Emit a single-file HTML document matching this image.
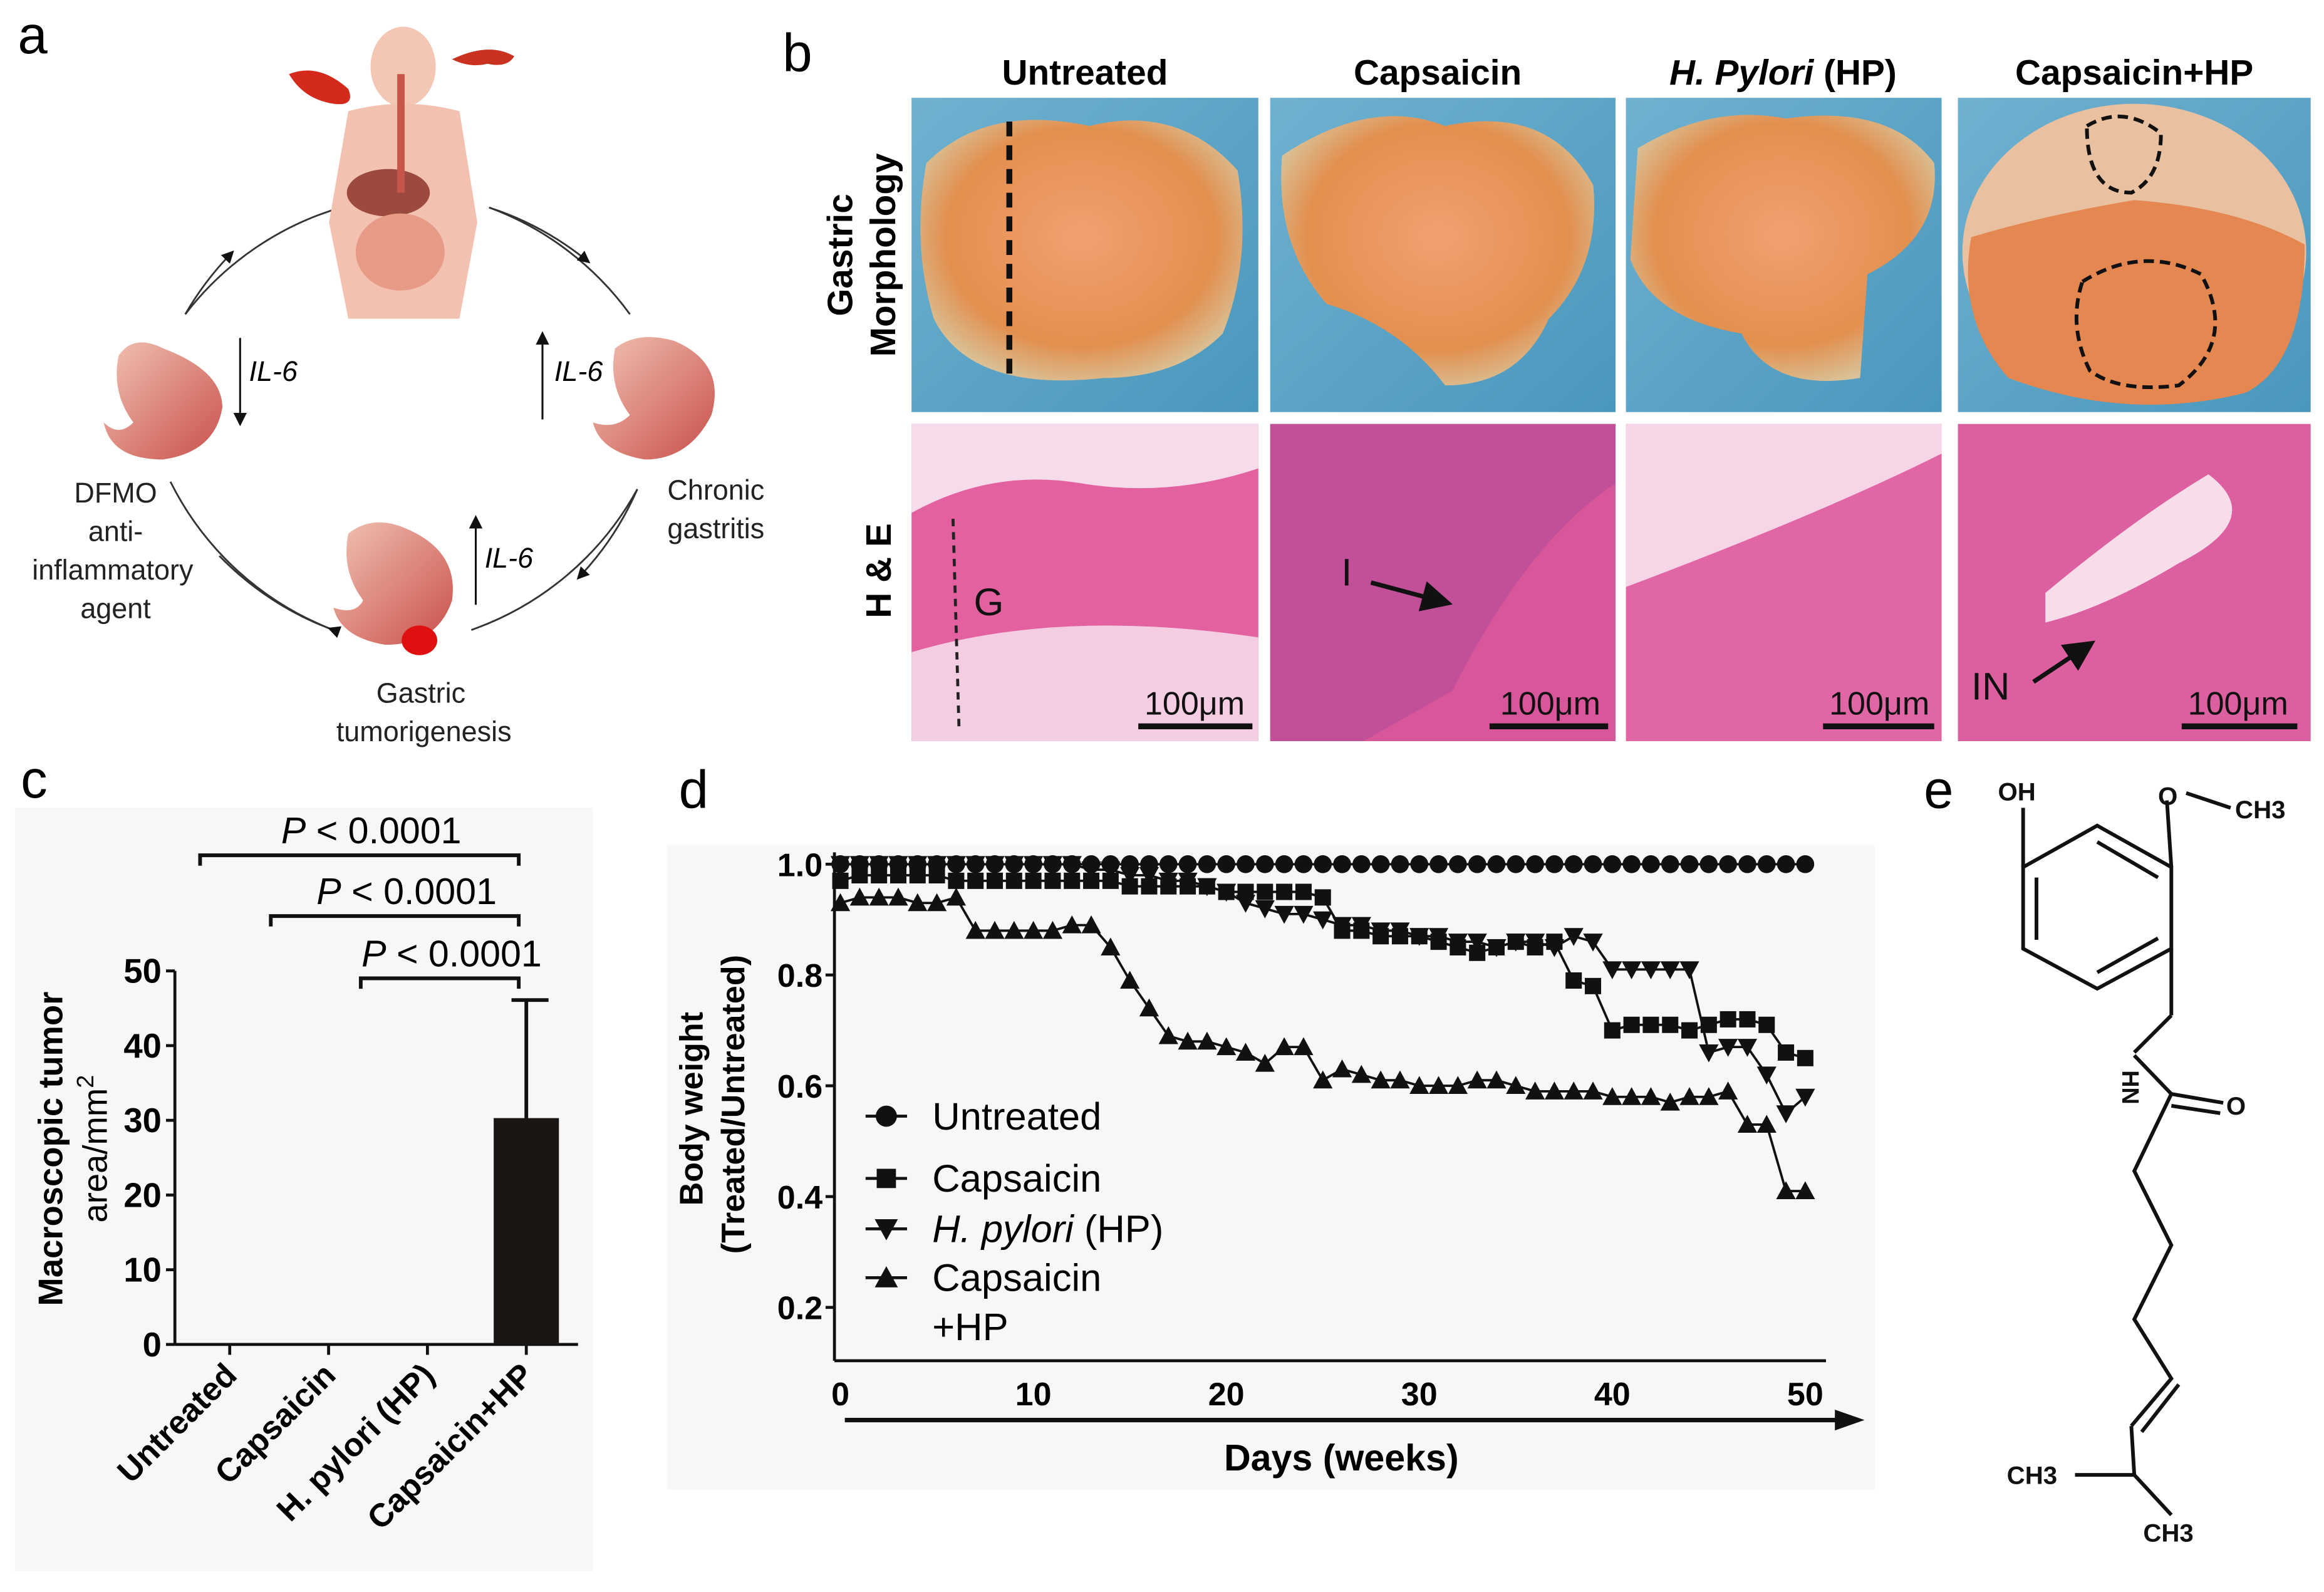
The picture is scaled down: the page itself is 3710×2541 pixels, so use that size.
<!DOCTYPE html>
<html><head><meta charset="utf-8"><style>
html,body{margin:0;padding:0;background:#fff;}
svg{display:block;font-family:"Liberation Sans",Arial,sans-serif;}
</style></head><body>
<svg id="fig" width="3710" height="2541" viewBox="0 0 1568 1074" preserveAspectRatio="none" xmlns="http://www.w3.org/2000/svg">
<defs>
<marker id="ah" viewBox="0 0 10 10" refX="5" refY="5" markerWidth="7" markerHeight="7" orient="auto"><path d="M0,0L10,5L0,10z" fill="#111"/></marker>
<radialGradient id="stom" cx="50%" cy="45%" r="60%"><stop offset="0" stop-color="#f2a070"/><stop offset="0.7" stop-color="#e2904f"/><stop offset="1" stop-color="#d8c7a0"/></radialGradient>
<linearGradient id="blue" x1="0" y1="0" x2="1" y2="1"><stop offset="0" stop-color="#6fb1cf"/><stop offset="1" stop-color="#4a97bd"/></linearGradient>
<linearGradient id="stomA" x1="0" y1="0" x2="1" y2="1"><stop offset="0" stop-color="#f1c3b4"/><stop offset="1" stop-color="#c9504a"/></linearGradient>
<clipPath id="clip4"><rect x="1321" y="66" width="238" height="212"/></clipPath>
</defs>

<!-- ===== Panel a ===== -->
<g>
<text x="12" y="36" font-size="36">a</text>
<path d="M125,212 A205,205 0 0 1 155,172" fill="none" stroke="#333" stroke-width="1.2" marker-end="url(#ah)"/>
<path d="M125,212 A205,205 0 0 1 230,140" fill="none" stroke="#333" stroke-width="1.2"/>
<path d="M330,140 A205,205 0 0 1 425,212" fill="none" stroke="#333" stroke-width="1.2"/>
<path d="M330,140 A205,205 0 0 1 395,175" fill="none" stroke="#333" stroke-width="1.2" marker-end="url(#ah)"/>
<path d="M430,330 A205,205 0 0 1 318,425" fill="none" stroke="#333" stroke-width="1.2"/>
<path d="M430,330 A205,205 0 0 1 392,388" fill="none" stroke="#333" stroke-width="1.2" marker-end="url(#ah)"/>
<path d="M225,425 A205,205 0 0 1 115,325" fill="none" stroke="#333" stroke-width="1.2"/>
<path d="M225,425 A205,205 0 0 1 148,375" fill="none" stroke="#333" stroke-width="1.2" marker-start="url(#ah)"/>
<g>
<ellipse cx="272" cy="45" rx="22" ry="27" fill="#f4c6b4"/>
<path d="M235,75 Q272,65 310,75 L322,150 L310,215 L235,215 L222,150 Z" fill="#f3c1b0"/>
<ellipse cx="262" cy="130" rx="28" ry="16" fill="#9b4a3d"/>
<ellipse cx="270" cy="170" rx="30" ry="26" fill="#e79a86"/>
<rect x="268" y="50" width="5" height="80" fill="#c8554a"/>
</g>
<path d="M195,50 q20,-8 40,10 q5,12 -10,10 q-20,-3 -30,-20z" fill="#d42a1c"/>
<path d="M305,40 q25,-12 42,-2 q-5,8 -18,5 q-12,3 -24,-3z" fill="#c9321f"/>
<path d="M80,240 q10,-15 30,-5 q40,15 40,40 q-5,30 -40,35 q-35,0 -40,-25 q10,10 20,0 q-15,-20 -10,-45z" fill="url(#stomA)"/>
<path d="M415,235 q15,-12 40,-5 q35,15 25,50 q-15,30 -45,30 q-30,-5 -35,-25 q15,5 25,-5 q-15,-20 -10,-45z" fill="url(#stomA)"/>
<path d="M235,360 q15,-12 35,-5 q40,15 35,50 q-10,30 -45,30 q-30,-5 -35,-25 q15,5 20,-5 q-15,-20 -10,-45z" fill="url(#stomA)"/>
<ellipse cx="283" cy="432" rx="12" ry="10" fill="#e01010"/>
<line x1="162" y1="228" x2="162" y2="283" stroke="#111" stroke-width="1.3" marker-end="url(#ah)"/>
<text x="168" y="257" font-size="19" font-style="italic">IL-6</text>
<line x1="366" y1="283" x2="366" y2="228" stroke="#111" stroke-width="1.3" marker-end="url(#ah)"/>
<text x="374" y="257" font-size="19" font-style="italic">IL-6</text>
<line x1="321" y1="408" x2="321" y2="352" stroke="#111" stroke-width="1.3" marker-end="url(#ah)"/>
<text x="327" y="383" font-size="19" font-style="italic">IL-6</text>
<g font-size="19" text-anchor="middle" fill="#222">
<text x="78" y="339">DFMO</text><text x="78" y="365">anti-</text><text x="76" y="391">inflammatory</text><text x="78" y="417">agent</text>
<text x="483" y="337">Chronic</text><text x="483" y="363">gastritis</text>
<text x="284" y="474">Gastric</text><text x="286" y="500">tumorigenesis</text>
</g>
</g>

<!-- ===== Panel b ===== -->
<g>
<text x="528" y="48" font-size="36">b</text>
<g font-size="24" font-weight="bold" text-anchor="middle">
<text x="732" y="57">Untreated</text>
<text x="970" y="57">Capsaicin</text>
<text x="1203" y="57"><tspan font-style="italic">H. Pylori</tspan> (HP)</text>
<text x="1440" y="57">Capsaicin+HP</text>
<text transform="translate(604,172) rotate(-90)">Morphology</text>
<text transform="translate(575,172) rotate(-90)">Gastric</text>
<text transform="translate(601,385) rotate(-90)">H &amp; E</text>
</g>
<g>
<rect x="615" y="66" width="234" height="212" fill="url(#blue)"/>
<path d="M625,110 q40,-40 110,-25 q60,-15 100,30 q10,60 -10,110 q-30,30 -80,30 q-90,10 -115,-40 q-15,-50 -5,-105z" fill="url(#stom)"/>
<line x1="681" y1="82" x2="681" y2="252" stroke="#111" stroke-width="4" stroke-dasharray="10,6"/>
<rect x="857" y="66" width="233" height="212" fill="url(#blue)"/>
<path d="M865,105 q60,-40 110,-20 q70,-15 100,40 q5,55 -30,90 q-20,45 -70,45 q-30,-40 -80,-55 q-35,-40 -30,-100z" fill="url(#stom)"/>
<rect x="1097" y="66" width="213" height="212" fill="url(#blue)"/>
<path d="M1105,100 q50,-30 100,-20 q70,-10 100,30 q5,50 -45,75 l-5,70 q-60,10 -80,-30 q-60,-10 -75,-50z" fill="url(#stom)"/>
<rect x="1321" y="66" width="238" height="212" fill="url(#blue)"/>
<g clip-path="url(#clip4)">
<ellipse cx="1440" cy="170" rx="116" ry="100" fill="#e9c0a0"/>
<path d="M1330,160 q50,-15 110,-25 q70,5 115,30 q0,80 -40,100 q-80,20 -160,-10 q-35,-40 -25,-95z" fill="#e58750"/>
</g>
<path d="M1408,85 q25,-15 50,5 q0,30 -20,40 q-30,0 -30,-45z" fill="none" stroke="#111" stroke-width="2.5" stroke-dasharray="7,4"/>
<path d="M1405,190 q40,-25 80,-5 q25,45 -15,75 q-40,5 -60,-10 q-15,-30 -5,-60z" fill="none" stroke="#111" stroke-width="2.5" stroke-dasharray="7,4"/>
</g>
<g>
<rect x="615" y="286" width="234" height="214" fill="#e2619e"/>
<path d="M615,286 h234 v30 q-60,20 -120,10 q-60,-10 -114,20z" fill="#f6dceb"/>
<path d="M615,440 q100,-30 234,-10 v70 h-234z" fill="#f4cde2"/>
<line x1="643" y1="350" x2="647" y2="490" stroke="#222" stroke-width="2" stroke-dasharray="5,4"/>
<text x="657" y="415" font-size="26" fill="#111">G</text>
<rect x="857" y="286" width="233" height="214" fill="#d8579a"/>
<path d="M857,286 h233 v40 q-60,40 -110,140 l-60,34 h-63z" fill="#b04a98" opacity="0.55"/>
<text x="905" y="395" font-size="26" fill="#111">I</text>
<line x1="925" y1="393" x2="970" y2="405" stroke="#111" stroke-width="3" marker-end="url(#ah)"/>
<rect x="1097" y="286" width="213" height="214" fill="#e066a5"/>
<path d="M1097,286 h213 v20 q-80,40 -213,90z" fill="#f5d5e6"/>
<rect x="1321" y="286" width="238" height="214" fill="#dc5f9f"/>
<path d="M1380,400 q60,-50 110,-80 q40,30 -20,60 q-50,30 -90,40z" fill="#f7dcea"/>
<text x="1330" y="472" font-size="26" fill="#111">IN</text>
<line x1="1372" y1="460" x2="1405" y2="438" stroke="#111" stroke-width="3" marker-end="url(#ah)"/>
<g font-size="22" fill="#111" text-anchor="middle">
<text x="806" y="482">100μm</text><text x="1046" y="482">100μm</text><text x="1268" y="482">100μm</text><text x="1510" y="482">100μm</text>
</g>
<g stroke="#111" stroke-width="4">
<line x1="768" y1="490" x2="845" y2="490"/><line x1="1005" y1="490" x2="1085" y2="490"/><line x1="1230" y1="490" x2="1305" y2="490"/><line x1="1472" y1="490" x2="1550" y2="490"/>
</g>
</g>
</g>

<!-- ===== Panel c ===== -->
<g>
<rect x="10" y="545" width="390" height="515" fill="#f7f7f7"/>
<text x="14" y="538" font-size="36">c</text>
<g id="chartC"></g>
</g>

<!-- ===== Panel d ===== -->
<g>
<rect x="450" y="570" width="815" height="435" fill="#f7f7f7"/>
<text x="458" y="545" font-size="36">d</text>
<g id="chartD"></g>
</g>

<!-- ===== Panel e ===== -->
<g>
<text x="1298" y="545" font-size="36">e</text>
<g stroke="#111" stroke-width="2.5" fill="none">
<path d="M1415,557 L1465,585 L1465,640 L1415,667 L1365,640 L1365,585 Z"/>
<path d="M1374,592 L1374,634 M1415,656 L1456,633 M1415,568 L1456,592"/>
<line x1="1365" y1="585" x2="1365" y2="545"/>
<line x1="1465" y1="585" x2="1462" y2="540"/>
<line x1="1475" y1="535" x2="1505" y2="545"/>
<line x1="1465" y1="640" x2="1465" y2="685"/>
<line x1="1465" y1="685" x2="1440" y2="710"/>
<line x1="1440" y1="712" x2="1465" y2="738"/>
<line x1="1465" y1="738" x2="1500" y2="744"/><line x1="1465" y1="746" x2="1498" y2="751"/>
<polyline points="1465,738 1440,790 1465,840 1440,890 1465,930 1438,962"/>
<line x1="1470" y1="934" x2="1445" y2="966"/>
<polyline points="1438,962 1440,995"/>
<line x1="1440" y1="995" x2="1400" y2="995"/>
<line x1="1440" y1="995" x2="1465" y2="1022"/>
</g>
<g font-size="17" font-weight="bold" fill="#111">
<text x="1348" y="540">OH</text>
<text x="1456" y="543">O</text>
<text x="1508" y="552">CH3</text>
<text transform="translate(1432,722) rotate(90)" font-size="16">HN</text>
<text x="1502" y="752">O</text>
<text x="1354" y="1001">CH3</text>
<text x="1446" y="1040">CH3</text>
</g>
</g>

<script>
// ----- Chart c data -----
const cCategories = ["Untreated","Capsaicin","H. pylori (HP)","Capsaicin+HP"];
const cValues = [0, 0, 0, 30.3];
const cErrors = [0, 0, 0, 15.8];
const cTicks = [0,10,20,30,40,50];
const cPLabels = ["P < 0.0001","P < 0.0001","P < 0.0001"];

// ----- Chart d data -----
const dDays = Array.from({length:51},(_,i)=>i);
const dUntreated = [1,1,1,1,1,1,1,1,1,1,1,1,1,1,1,1,1,1,1,1,1,1,1,1,1,1,1,1,1,1,1,1,1,1,1,1,1,1,1,1,1,1,1,1,1,1,1,1,1,1,1];
const dCapsaicin = [0.97,0.98,0.98,0.98,0.98,0.98,0.97,0.97,0.97,0.97,0.97,0.97,0.97,0.97,0.97,0.96,0.96,0.96,0.96,0.96,0.95,0.95,0.95,0.95,0.95,0.94,0.88,0.88,0.87,0.87,0.87,0.86,0.85,0.84,0.85,0.86,0.85,0.86,0.79,0.78,0.70,0.71,0.71,0.71,0.70,0.71,0.72,0.72,0.71,0.66,0.65];
const dHP = [1,1,1,1,1,1,1,1,1,1,1,1,1,0.99,0.99,0.98,0.98,0.97,0.97,0.96,0.95,0.93,0.92,0.91,0.91,0.90,0.89,0.89,0.88,0.88,0.87,0.87,0.86,0.86,0.85,0.86,0.86,0.85,0.87,0.86,0.81,0.81,0.81,0.81,0.81,0.66,0.67,0.67,0.62,0.55,0.58];
const dCapHP = [0.93,0.94,0.94,0.94,0.93,0.93,0.94,0.88,0.88,0.88,0.88,0.88,0.89,0.89,0.85,0.79,0.74,0.69,0.68,0.68,0.67,0.66,0.64,0.67,0.67,0.61,0.63,0.62,0.61,0.61,0.60,0.60,0.60,0.61,0.61,0.60,0.59,0.59,0.59,0.59,0.58,0.58,0.58,0.57,0.58,0.58,0.59,0.53,0.53,0.41,0.41];
const dXTicks = [0,10,20,30,40,50];
const dYTicks = [0.2,0.4,0.6,0.8,1.0];

const NS="http://www.w3.org/2000/svg";
function mk(parent,tag,attrs,text){const e=document.createElementNS(NS,tag);for(const k in attrs)e.setAttribute(k,attrs[k]);if(text!==undefined)e.textContent=text;parent.appendChild(e);return e;}

// ---- Chart c ----
(function(){
  const g=document.getElementById('chartC');
  const y=v=>907-v*5.04, x0=118, x1=390;
  const xs=i=>155+i*66.7;
  mk(g,'line',{x1:x0,y1:y(0),x2:x1,y2:y(0),stroke:'#111','stroke-width':2});
  mk(g,'line',{x1:x0,y1:y(0),x2:x0,y2:y(50),stroke:'#111','stroke-width':2});
  cTicks.forEach(t=>{
    mk(g,'line',{x1:x0-6,y1:y(t),x2:x0,y2:y(t),stroke:'#111','stroke-width':2});
    const tl=mk(g,'text',{x:x0-9,y:y(t)+8,'font-size':23,'font-weight':'bold','text-anchor':'end'},t);
    
    
  });
  cCategories.forEach((c,i)=>{
    const cx=xs(i);
    mk(g,'line',{x1:cx,y1:y(0),x2:cx,y2:y(0)+7,stroke:'#111','stroke-width':2});
    const t=mk(g,'text',{transform:`translate(${cx+6},${y(0)+22}) rotate(-45)`,'font-size':22,'font-weight':'bold','text-anchor':'end'},c);
    
    
    if(cValues[i]>0){
      const b=mk(g,'rect',{x:cx-22,y:y(cValues[i]),width:44,height:y(0)-y(cValues[i]),fill:'#1a1614'});
      
      
      const top=cValues[i]+cErrors[i];
      mk(g,'line',{x1:cx,y1:y(cValues[i]),x2:cx,y2:y(top),stroke:'#111','stroke-width':2.5});
      mk(g,'line',{x1:cx-10,y1:y(top),x2:cx+15,y2:y(top),stroke:'#111','stroke-width':2.5});
    }
  });
  const br=[[xs(0)-20,577],[xs(1)-39,618],[xs(2)-45,660]];
  br.forEach((b,k)=>{
    const xe=350, yy=b[1];
    mk(g,'path',{d:`M${b[0]},${yy+7} V${yy} H${xe} V${yy+7}`,fill:'none',stroke:'#111','stroke-width':2.5});
    const t=mk(g,'text',{x:(b[0]+xe)/2+8,y:yy-8,'font-size':25,'text-anchor':'middle'});
    mk(t,'tspan',{'font-style':'italic'},cPLabels[k].slice(0,1));
    mk(t,'tspan',{},cPLabels[k].slice(1));
    
    
  });
  const yl=mk(g,'text',{transform:'translate(42,775) rotate(-90)','font-size':23,'font-weight':'bold','text-anchor':'middle'},'Macroscopic tumor');
  
  
  const yl2=mk(g,'text',{transform:'translate(72,775) rotate(-90)','font-size':23,'text-anchor':'middle'});
  mk(yl2,'tspan',{},'area/mm');
  mk(yl2,'tspan',{dy:-9,'font-size':16},'2');
})();

// ---- Chart d ----
(function(){
  const g=document.getElementById('chartD');
  const x=d=>567+d*13.02, y=v=>583+(1-v)*373.75;
  mk(g,'line',{x1:563,y1:575,x2:563,y2:918,stroke:'#111','stroke-width':2});
  mk(g,'line',{x1:563,y1:918,x2:1232,y2:918,stroke:'#111','stroke-width':2});
  dYTicks.forEach(t=>{
    mk(g,'line',{x1:557,y1:y(t),x2:563,y2:y(t),stroke:'#111','stroke-width':2});
    const tl=mk(g,'text',{x:555,y:y(t)+8,'font-size':22,'font-weight':'bold','text-anchor':'end'},t.toFixed(1));
    
    
  });
  dXTicks.forEach(t=>{
    const tl=mk(g,'text',{x:x(t),y:948,'font-size':22,'font-weight':'bold','text-anchor':'middle'},t);
    
    
  });
  mk(g,'line',{x1:570,y1:958,x2:1245,y2:958,stroke:'#111','stroke-width':3});
  mk(g,'path',{d:'M1258,958 L1238,951 L1238,965 Z',fill:'#111'});
  const xt=mk(g,'text',{x:905,y:992,'font-size':25,'font-weight':'bold','text-anchor':'middle'},'Days (weeks)');
  
  
  const y1=mk(g,'text',{transform:'translate(474,748) rotate(-90)','font-size':22,'font-weight':'bold','text-anchor':'middle'},'Body weight');
  
  
  mk(g,'text',{transform:'translate(502,745) rotate(-90)','font-size':22,'font-weight':'bold','text-anchor':'middle'},'(Treated/Untreated)');

  function marker(par,type,cx,cy,s){
    if(type==='circle') return mk(par,'circle',{cx,cy,r:s*0.55,fill:'#111'});
    if(type==='square') return mk(par,'rect',{x:cx-s*0.5,y:cy-s*0.5,width:s,height:s,fill:'#111'});
    if(type==='down') return mk(par,'path',{d:`M${cx-s*0.6},${cy-s*0.5} L${cx+s*0.6},${cy-s*0.5} L${cx},${cy+s*0.6} Z`,fill:'#111'});
    return mk(par,'path',{d:`M${cx-s*0.6},${cy+s*0.5} L${cx+s*0.6},${cy+s*0.5} L${cx},${cy-s*0.6} Z`,fill:'#111'});
  }
  const series=[[dUntreated,'circle','untreated'],[dCapsaicin,'square','capsaicin'],[dHP,'down','hp'],[dCapHP,'up','capsaicin-hp']];
  series.forEach(([vals,type,name])=>{
    const sg=mk(g,'g',{});
    
    
    mk(sg,'polyline',{points:vals.map((v,i)=>x(dDays[i])+','+y(v)).join(' '),fill:'none',stroke:'#111','stroke-width':1.6});
    vals.forEach((v,i)=>{
      const m=marker(sg,type,x(dDays[i]),y(v),11);
      
      
    });
  });
  const leg=[['circle','Untreated',753],['square','Capsaicin',795],['down','H. pylori',829],['up','Capsaicin',862]];
  leg.forEach(([t,l,yy],k)=>{
    const lg=mk(g,'g',{});
    
    
    mk(lg,'line',{x1:584,y1:yy,x2:612,y2:yy,stroke:'#111','stroke-width':2});
    marker(lg,t,598,yy,13);
    const tx=mk(lg,'text',{x:629,y:yy+9,'font-size':26});
    if(k===2){mk(tx,'tspan',{'font-style':'italic'},'H. pylori');mk(tx,'tspan',{},' (HP)');}
    else tx.textContent=l;
  });
  mk(g,'text',{x:629,y:904,'font-size':26},'+HP');
})();
</script>
</svg>
</body></html>
